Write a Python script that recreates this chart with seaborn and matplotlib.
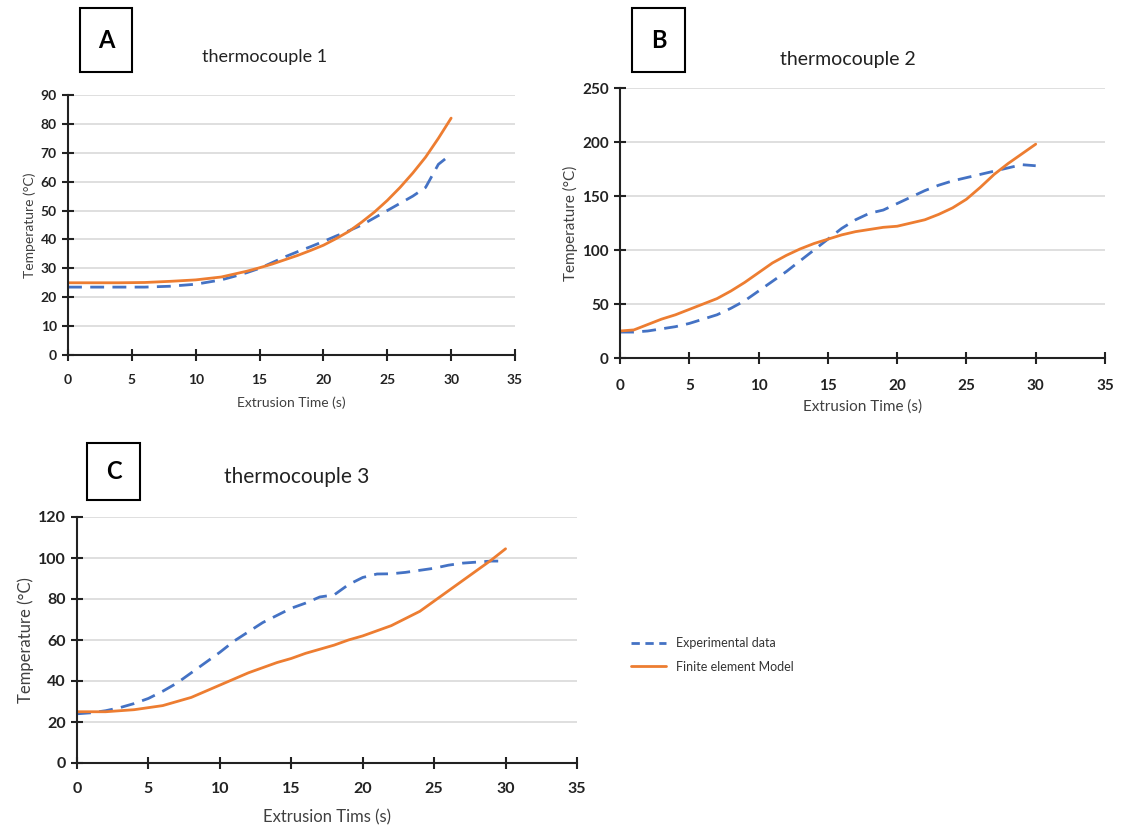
import matplotlib
matplotlib.use("Agg")
import matplotlib.pyplot as plt
from matplotlib.patches import Rectangle
from matplotlib.lines import Line2D
import seaborn as sns
import pandas as pd

# ---------------- data ----------------
tA = [0, 2, 4, 6, 8, 10, 12, 13, 14, 15, 16, 17, 18, 19, 20, 21, 22, 23, 24, 25, 26, 27, 28, 28.5, 29, 30]
expA = [23.5, 23.5, 23.5, 23.5, 23.8, 24.5, 26, 27.2, 28.5, 30, 32, 34, 35.8, 37.5, 39.3, 41.2, 43, 45, 47.5,
        50, 52.5, 55, 58, 62, 66, 69.5]
tA_m = [0, 2, 4, 6, 8, 10, 12, 13, 14, 15, 16, 17, 18, 19, 20, 21, 22, 23, 24, 25, 26, 27, 28, 29, 30]
modA = [25, 25, 25, 25.1, 25.5, 26, 27, 28, 29, 30.2, 31.5, 33, 34.5, 36.2, 38, 40.3, 42.8, 46, 49.5, 53.5,
        58, 63, 68.5, 75, 82]

tB = list(range(0, 31))
expB = [24, 24, 25, 27, 29, 32, 36, 40, 46, 53, 62, 71, 80, 90, 100, 110, 120, 128, 134, 137, 143, 149, 155,
        160, 164, 167, 170, 173, 176, 179, 178]
modB = [25, 26, 31, 36, 40, 45, 50, 55, 62, 70, 79, 88, 95, 101, 106, 110, 114, 117, 119, 121, 122, 125, 128,
        133, 139, 147, 158, 170, 180, 189, 198]

tC = list(range(0, 31))
expC = [24, 24.5, 25.5, 27, 29, 31.5, 35, 39, 44, 49, 54, 59.5, 64, 68.5, 72, 75.5, 78, 81, 82, 87, 90.5, 92.2,
        92.3, 93, 94, 95, 96.5, 97.5, 98, 98.5, 98.5]
modC = [25, 25, 25, 25.5, 26, 27, 28, 30, 32, 35, 38, 41, 44, 46.5, 49, 51, 53.5, 55.5, 57.5, 60, 62, 64.5, 67,
        70.5, 74, 79, 84, 89, 94, 99, 104.5]

titles = ["thermocouple 1", "thermocouple 2", "thermocouple 3"]
letters = ["A", "B", "C"]
xlabels = ["Extrusion Time (s)", "Extrusion Time (s)", "Extrusion Tims (s)"]
ylabels = ["Temperature (°C)", "Temperature (°C)", "Temperature (°C)"]
xticks = [0, 5, 10, 15, 20, 25, 30, 35]
yticksA = [0, 10, 20, 30, 40, 50, 60, 70, 80, 90]
yticksB = [0, 50, 100, 150, 200, 250]
yticksC = [0, 20, 40, 60, 80, 100, 120]
legend_labels = ["Experimental data", "Finite element Model"]

BLUE = "#4472C4"
ORANGE = "#ED7D31"

sns.set_theme(style="white")
plt.rcParams["font.family"] = ["Lato", "DejaVu Sans"]

fig = plt.figure(figsize=(11.21, 8.32), dpi=100)
W, H = 1121, 832


def ax_rect(x0, x1, ytop, ybot):
    return [x0 / W, 1 - ybot / H, (x1 - x0) / W, (ybot - ytop) / H]


rects = [ax_rect(68, 515, 95, 355), ax_rect(620, 1105, 88, 358), ax_rect(77, 577, 517, 763)]
series = [(tA, expA, tA_m, modA, yticksA), (tB, expB, tB, modB, yticksB), (tC, expC, tC, modC, yticksC)]
tick_fs = [10, 11, 11.5]
lab_fs = [10, 11, 12]
xlpad = [7, 5, 10]
xtpad = [10, 11, 9.5]

for i, (rect, (te, ye, tm, ym, yt)) in enumerate(zip(rects, series)):
    ax = fig.add_axes(rect)
    dfe = pd.DataFrame({"t": te, "v": ye})
    dfm = pd.DataFrame({"t": tm, "v": ym})
    sns.lineplot(data=dfe, x="t", y="v", ax=ax, color=BLUE, linestyle=(0, (5, 3)), linewidth=2)
    sns.lineplot(data=dfm, x="t", y="v", ax=ax, color=ORANGE, linewidth=2)
    ax.set_xlim(0, 35)
    ax.set_ylim(0, yt[-1])
    ax.set_xticks(xticks)
    ax.set_yticks(yt)
    ax.yaxis.grid(True, color="#d9d9d9", linewidth=1.2)
    ax.set_axisbelow(True)
    for s in ["top", "right"]:
        ax.spines[s].set_visible(False)
    for s in ["left", "bottom"]:
        ax.spines[s].set_color("#222222")
        ax.spines[s].set_linewidth(1.5)
    ax.tick_params(axis="both", which="major", bottom=True, left=True, direction="inout", length=8,
                   width=1.5, color="#222222", labelsize=tick_fs[i], labelcolor="#222222", pad=4)
    ax.tick_params(axis="x", pad=xtpad[i])
    for lbl in ax.get_xticklabels() + ax.get_yticklabels():
        lbl.set_fontweight("bold")
    ax.set_xlabel(xlabels[i], fontsize=lab_fs[i], color="#404040", labelpad=xlpad[i])
    ax.set_ylabel(ylabels[i], fontsize=lab_fs[i], color="#404040", labelpad=3)

# titles
fig.text(265 / W, 1 - 57 / H, titles[0], ha="center", va="center", fontsize=13, color="#222222")
fig.text(848 / W, 1 - 60 / H, titles[1], ha="center", va="center", fontsize=14, color="#222222")
fig.text(297 / W, 1 - 477 / H, titles[2], ha="center", va="center", fontsize=15, color="#222222")

# letter boxes
boxes = [(80, 132, 8, 72), (632, 685, 8, 72), (87, 140, 443, 500)]
for letter, (x0, x1, y0, y1) in zip(letters, boxes):
    fig.patches.append(Rectangle((x0 / W, 1 - y1 / H), (x1 - x0) / W, (y1 - y0) / H,
                                 transform=fig.transFigure, fill=False, edgecolor="black", linewidth=1.5))
    fig.text((x0 + x1) / 2 / W, 1 - (y0 + y1) / 2 / H, letter, ha="center", va="center",
             fontsize=17, fontweight="bold", color="black")

# legend
handles = [Line2D([0], [0], color=BLUE, linestyle=(0, (3, 2)), linewidth=2),
           Line2D([0], [0], color=ORANGE, linewidth=2)]
fig.legend(handles, legend_labels, loc="center left", bbox_to_anchor=(620 / W, 1 - 655 / H),
           frameon=False, fontsize=9, handlelength=2.8, labelspacing=0.9, labelcolor="#333333")

fig.savefig("out.png", dpi=100)
